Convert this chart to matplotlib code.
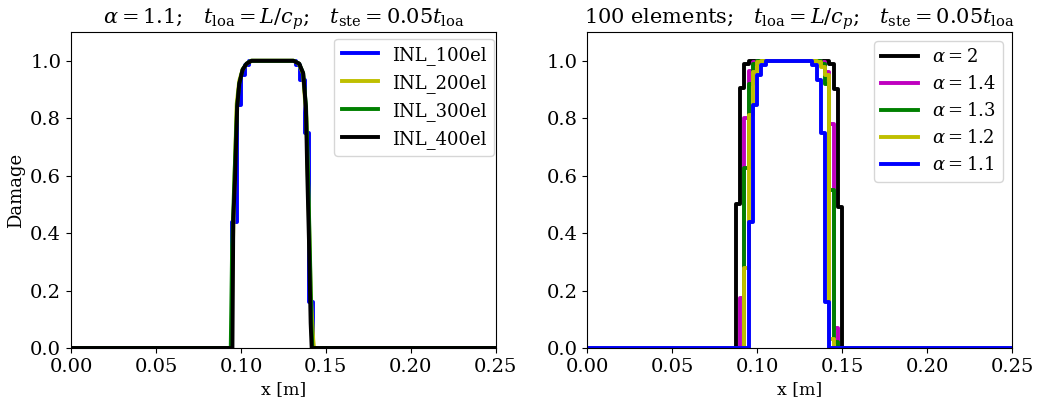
import numpy as np
import matplotlib
matplotlib.use('Agg')
import matplotlib.pyplot as plt

plt.rcParams['font.family'] = 'DejaVu Serif'
plt.rcParams['mathtext.fontset'] = 'dejavuserif'

# element edges (100 elements, only the breakpoints that matter)
x_el = [0.0, 0.0875, 0.09, 0.0925, 0.095, 0.0975, 0.1, 0.1025, 0.105,
        0.1325, 0.135, 0.1375, 0.14, 0.1425, 0.145, 0.1475, 0.15, 0.25]

# damage per element for each alpha
d_a20 = [0, 0.50, 0.905, 0.99, 1, 1, 1, 1, 1, 1, 1, 1, 1, 0.99, 0.90, 0.49, 0]
d_a14 = [0, 0, 0.173, 0.80, 0.963, 0.995, 1, 1, 1, 1, 1, 0.995, 0.96, 0.78, 0.07, 0, 0]
d_a13 = [0, 0, 0, 0.626, 0.92, 0.99, 1, 1, 1, 1, 1, 0.99, 0.92, 0.55, 0.02, 0, 0]
d_a12 = [0, 0, 0, 0.28, 0.81, 0.96, 0.995, 1, 1, 1, 0.995, 0.98, 0.95, 0.03, 0, 0, 0]
d_a11 = [0, 0, 0, 0, 0.44, 0.847, 0.951, 0.986, 1, 0.986, 0.934, 0.748, 0.161, 0, 0, 0, 0]

# finer meshes, alpha = 1.1
x_200 = [0, 0.0945, 0.095, 0.0963, 0.0975, 0.099, 0.101, 0.1035, 0.106,
         0.131, 0.134, 0.1365, 0.1385, 0.1398, 0.141, 0.1425, 0.143, 0.25]
d_200 = [0, 0, 0.3, 0.6, 0.85, 0.93, 0.97, 0.99, 1, 1, 0.99, 0.955, 0.8, 0.5, 0.2, 0.03, 0, 0]
x_300 = [0, 0.094, 0.0948, 0.0962, 0.0977, 0.099, 0.101, 0.1033, 0.106,
         0.131, 0.1342, 0.1366, 0.1383, 0.1395, 0.1405, 0.1415, 0.142, 0.25]
d_300 = [0, 0, 0.35, 0.6, 0.84, 0.92, 0.97, 0.99, 1, 1, 0.99, 0.957, 0.84, 0.6, 0.35, 0.08, 0, 0]
x_400 = [0, 0.095, 0.0955, 0.0965, 0.0978, 0.099, 0.101, 0.1033, 0.1063,
         0.1308, 0.1343, 0.1366, 0.1382, 0.139, 0.140, 0.141, 0.1416, 0.25]
d_400 = [0, 0, 0.45, 0.585, 0.84, 0.92, 0.969, 0.99, 1, 1, 0.99, 0.957, 0.84, 0.61, 0.376, 0.087, 0, 0]


def steps(vals):
    return np.append(vals, vals[-1])


fig = plt.figure(figsize=(10.39, 4.03), dpi=100)
ax1 = fig.add_axes([0.0683, 0.1365, 0.409, 0.784])
ax2 = fig.add_axes([0.565, 0.1365, 0.409, 0.784])
lw = 2.8

ax1.plot(x_el, steps(d_a11), drawstyle='steps-post', color='b', lw=lw, label='INL_100el')
ax1.plot(x_200, d_200, color='y', lw=lw, label='INL_200el')
ax1.plot(x_300, d_300, color='g', lw=lw, label='INL_300el')
ax1.plot(x_400, d_400, color='k', lw=lw, label='INL_400el')
ax1.set_title(r'$\alpha = 1.1;\;\;\; t_{\rm loa} = L/c_p;\;\;\; t_{\rm ste} = 0.05t_{\rm loa}$', fontsize=15)
ax1.set_ylabel('Damage', fontsize=13)
ax1.legend(fontsize=13, loc='upper right', bbox_to_anchor=(1.0, 0.985), borderaxespad=0.1)

ax2.plot(x_el, steps(d_a20), drawstyle='steps-post', color='k', lw=lw, label=r'$\alpha = 2$')
ax2.plot(x_el, steps(d_a14), drawstyle='steps-post', color='m', lw=lw, label=r'$\alpha = 1.4$')
ax2.plot(x_el, steps(d_a13), drawstyle='steps-post', color='g', lw=lw, label=r'$\alpha = 1.3$')
ax2.plot(x_el, steps(d_a12), drawstyle='steps-post', color='y', lw=lw, label=r'$\alpha = 1.2$')
ax2.plot(x_el, steps(d_a11), drawstyle='steps-post', color='b', lw=lw, label=r'$\alpha = 1.1$')
ax2.set_title(r'100 elements;   $t_{\rm loa} = L/c_p$;   $t_{\rm ste} = 0.05t_{\rm loa}$', fontsize=15)
ax2.legend(fontsize=13, loc='upper right')

for ax in (ax1, ax2):
    ax.set_xlim(0, 0.25)
    ax.set_ylim(0, 1.1)
    ax.set_xticks([0.0, 0.05, 0.10, 0.15, 0.20, 0.25])
    ax.set_xlabel('x [m]', fontsize=12.5)
    ax.tick_params(labelsize=14)

plt.savefig('out.png')
